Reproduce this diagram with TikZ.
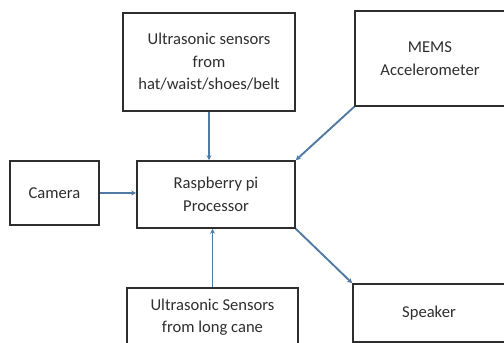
\documentclass[tikz,border=0pt]{standalone}
\usepackage{fontspec}
\setmainfont{Carlito}
\usetikzlibrary{arrows.meta}
\definecolor{arrowblue}{HTML}{5079A5}
\definecolor{boxgray}{HTML}{2E2E2E}
\tikzset{
  block/.style={draw=boxgray, line width=1.6pt, text=boxgray, align=center,
    inner sep=2pt, font=\fontsize{16.6}{22.5}\selectfont},
  link/.style={draw=arrowblue, line width=1.9pt, -{Stealth[length=5pt,width=5pt]}}
}
\begin{document}
\begin{tikzpicture}[x=1pt, y=1pt]
\useasboundingbox (0,0) rectangle (504,343);
\clip (0,0) rectangle (504,343);
\node[block, minimum width=172pt, minimum height=98pt] (Sensors Top) at (209,281) {Ultrasonic sensors\\from\\hat/waist/shoes/belt};
\node[block, minimum width=150pt, minimum height=95pt] (MEMS) at (430,284.5) {MEMS\\Accelerometer};
\node[block, minimum width=89pt, minimum height=64pt] (Camera) at (54.5,150) {Camera};
\node[block, minimum width=158pt, minimum height=67pt] (Pi) at (216,148.5) {Raspberry pi\\Processor};
\node[block, minimum width=171pt, minimum height=58pt] (Sensors Cane) at (212.5,26) {Ultrasonic Sensors\\from long cane};
\node[block, minimum width=152pt, minimum height=58pt] (Speaker) at (429,30) {Speaker};

\draw[link] (Sensors Top.south) -- (Sensors Top.south |- Pi.north);
\draw[link] (MEMS.south west) -- (Pi.north east);
\draw[link] (Camera.east) -- (Camera.east -| Pi.west);
\draw[link] (Sensors Cane.north) -- (Sensors Cane.north |- Pi.south);
\draw[link] (Pi.south east) -- (Speaker.north west);
\end{tikzpicture}
\end{document}
